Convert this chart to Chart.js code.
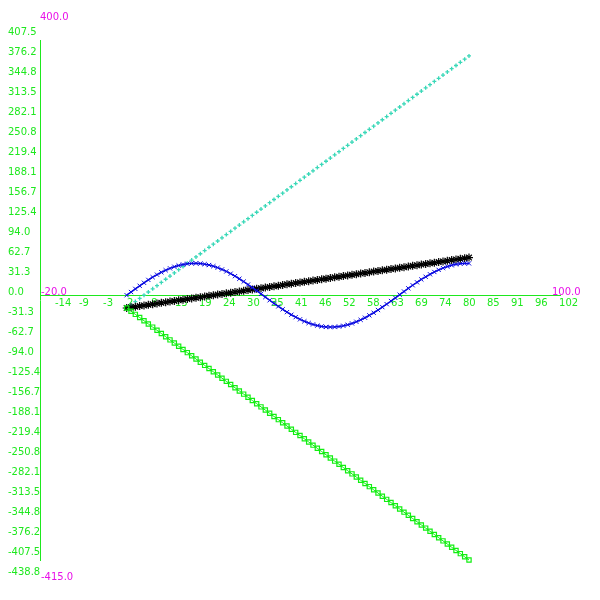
<!DOCTYPE html>
<html>
<head>
<meta charset="utf-8">
<script src="https://cdn.jsdelivr.net/npm/chart.js@4/dist/chart.umd.min.js"></script>
<style>
html,body{margin:0;padding:0;background:#fff;}
#wrap{width:600px;height:600px;}
</style>
</head>
<body>
<div id="wrap"><canvas id="c" width="600" height="600"></canvas></div>
<script>
// ---- data ----
const xValues = [0,1,2,3,4,5,6,7,8,9,10,11,12,13,14,15,16,17,18,19,20,21,22,23,24,25,26,27,28,29,30,31,32,33,34,35,36,37,38,39,40,41,42,43,44,45,46,47,48,49,50,51,52,53,54,55,56,57,58,59,60,61,62,63,64,65,66,67,68,69,70,71,72,73,74,75,76,77,78,79];
const greenSquares = [-20,-25,-30,-35,-40,-45,-50,-55,-60,-65,-70,-75,-80,-85,-90,-95,-100,-105,-110,-115,-120,-125,-130,-135,-140,-145,-150,-155,-160,-165,-170,-175,-180,-185,-190,-195,-200,-205,-210,-215,-220,-225,-230,-235,-240,-245,-250,-255,-260,-265,-270,-275,-280,-285,-290,-295,-300,-305,-310,-315,-320,-325,-330,-335,-340,-345,-350,-355,-360,-365,-370,-375,-380,-385,-390,-395,-400,-405,-410,-415];
const cyanPlus = [-20,-15,-10,-5,0,5,10,15,20,25,30,35,40,45,50,55,60,65,70,75,80,85,90,95,100,105,110,115,120,125,130,135,140,145,150,155,160,165,170,175,180,185,190,195,200,205,210,215,220,225,230,235,240,245,250,255,260,265,270,275,280,285,290,295,300,305,310,315,320,325,330,335,340,345,350,355,360,365,370,375];
const blackStars = [-20,-19,-18,-17,-16,-15,-14,-13,-12,-11,-10,-9,-8,-7,-6,-5,-4,-3,-2,-1,0,1,2,3,4,5,6,7,8,9,10,11,12,13,14,15,16,17,18,19,20,21,22,23,24,25,26,27,28,29,30,31,32,33,34,35,36,37,38,39,40,41,42,43,44,45,46,47,48,49,50,51,52,53,54,55,56,57,58,59];
const blueCrosses = [0,5.0,9.9,14.8,19.5,24.0,28.2,32.2,35.9,39.2,42.1,44.6,46.6,48.2,49.3,49.9,50.0,49.6,48.7,47.3,45.5,43.2,40.4,37.3,33.8,29.9,25.8,21.4,16.7,12.0,7.1,2.1,-2.9,-7.9,-12.8,-17.5,-22.1,-26.5,-30.6,-34.4,-37.8,-40.9,-43.6,-45.8,-47.6,-48.9,-49.7,-50.0,-49.8,-49.1,-47.9,-46.3,-44.2,-41.6,-38.6,-35.3,-31.6,-27.5,-23.2,-18.7,-14.0,-9.1,-4.2,0.8,5.8,10.8,15.6,20.2,24.7,28.9,32.8,36.4,39.7,42.5,44.9,46.9,48.4,49.4,49.9,49.9];

const xTickValues = [-14.46,-8.92,-3.38,2.15,7.69,13.23,18.77,24.31,29.85,35.38,40.92,46.46,52.0,57.54,63.08,68.62,74.15,79.69,85.23,90.77,96.31,101.85];
const xTickLabels = ['-14','-9','-3','2','8','13','19','24','30','35','41','46','52','58','63','69','74','80','85','91','96','102'];
const yTickLabels = ['407.5','376.2','344.8','313.5','282.1','250.8','219.4','188.1','156.7','125.4','94.0','62.7','31.3','0.0','-31.3','-62.7','-94.0','-125.4','-156.7','-188.1','-219.4','-250.8','-282.1','-313.5','-344.8','-376.2','-407.5','-438.8'];
const xRange = [-20, 100];
const yRange = [-415, 400];
const rangeLabels = { xMin: '-20.0', xMax: '100.0', yMin: '-415.0', yMax: '400.0' };

// ---- styles ----
const AXIS_GREEN = '#1ee81e';
const MAGENTA = '#e810e8';
const FONT = { family: 'DejaVu Sans', size: 10 };

function pts(ys) { return xValues.map((x, i) => ({ x: x, y: ys[i] })); }

const rangeLabelPlugin = {
  id: 'rangeLabels',
  afterDraw(chart) {
    const xs = chart.scales.x, ys = chart.scales.y, ctx = chart.ctx;
    ctx.save();
    ctx.font = FONT.size + 'px "' + FONT.family + '"';
    ctx.fillStyle = MAGENTA;
    ctx.textBaseline = 'middle';
    ctx.textAlign = 'left';
    const xl = xs.getPixelForValue(xRange[0]);
    const xr = xs.getPixelForValue(xRange[1]);
    const y0 = ys.getPixelForValue(0);
    ctx.fillText(rangeLabels.yMax, xl, ys.getPixelForValue(yRange[1]) - 23);
    ctx.fillText(rangeLabels.yMin, xl + 1, ys.getPixelForValue(yRange[0]) + 17);
    ctx.fillText(rangeLabels.xMin, xl + 1, y0 - 3);
    ctx.fillText(rangeLabels.xMax, xr - 8, y0 - 3);
    ctx.restore();
  }
};

new Chart(document.getElementById('c'), {
  type: 'scatter',
  data: {
    datasets: [
      { label: 'blue', data: pts(blueCrosses), showLine: true, borderColor: '#0a0ae0', backgroundColor: '#0a0ae0',
        borderWidth: 1.5, pointStyle: 'crossRot', pointRadius: 3, pointBorderWidth: 1, clip: false, order: 1 },
      { label: 'black', data: pts(blackStars), showLine: true, borderColor: '#000', backgroundColor: '#000',
        borderWidth: 1.5, pointStyle: 'star', pointRadius: 4, pointBorderWidth: 1.2, clip: false, order: 2 },
      { label: 'cyan', data: pts(cyanPlus), showLine: false, borderColor: '#3ad8b8', backgroundColor: '#3ad8b8',
        pointStyle: 'cross', pointRadius: 2, pointBorderWidth: 1.3, clip: false, order: 3 },
      { label: 'green', data: pts(greenSquares), showLine: true, borderColor: '#11ee11', backgroundColor: 'rgba(0,0,0,0)',
        borderWidth: 1, pointStyle: 'rect', pointRadius: 3, pointBorderWidth: 1.2, clip: false, order: 0 }
    ]
  },
  options: {
    responsive: false,
    animation: false,
    events: [],
    layout: { padding: { left: 8, top: 40, right: 40, bottom: 40 } },
    plugins: { legend: { display: false }, tooltip: { enabled: false } },
    scales: {
      x: {
        type: 'linear',
        min: xRange[0], max: xRange[1],
        position: { y: 0 },
        grid: { display: false, drawTicks: false },
        border: { display: true, color: AXIS_GREEN, width: 1 },
        afterBuildTicks: (s) => { s.ticks = xTickValues.map(v => ({ value: v })); },
        ticks: {
          autoSkip: false, maxRotation: 0, minRotation: 0,
          align: 'start', labelOffset: -9, padding: 2,
          color: AXIS_GREEN, font: FONT,
          callback: (v, i) => xTickLabels[i]
        }
      },
      y: {
        type: 'linear',
        min: yRange[0], max: yRange[1],
        position: 'left',
        grid: { display: false, drawTicks: false },
        border: { display: true, color: AXIS_GREEN, width: 1 },
        afterFit: (s) => { s.width = 32; },
        afterBuildTicks: (s) => { s.ticks = yTickLabels.map(l => ({ value: parseFloat(l) })); },
        ticks: {
          autoSkip: false, crossAlign: 'far', labelOffset: -3, padding: 0,
          color: AXIS_GREEN, font: FONT,
          callback: (v, i) => yTickLabels[i]
        }
      }
    }
  },
  plugins: [rangeLabelPlugin]
});
</script>
</body>
</html>
